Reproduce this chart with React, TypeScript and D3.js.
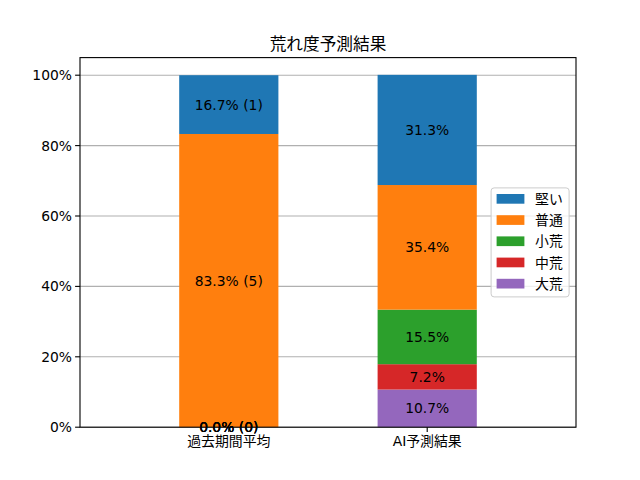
import * as d3 from "d3"

const categories = ["過去期間平均", "AI予測結果"]
// stacked bottom to top
const seriesNames = ["大荒", "中荒", "小荒", "普通", "堅い"]
const seriesColors = ["#9467bd", "#d62728", "#2ca02c", "#ff7f0e", "#1f77b4"]
const pastValues = [0, 0, 0, 83.3, 16.7]
const pastCounts = [0, 0, 0, 5, 1]
const aiValues = [10.7, 7.2, 15.5, 35.4, 31.3]
const yTicks = [0, 20, 40, 60, 80, 100]
const title = "荒れ度予測結果"

const font = "'DejaVu Sans', 'Noto Sans CJK JP', sans-serif"

export default function App() {
  const W = 640
  const H = 480
  const margin = { top: 57.6, right: 64, bottom: 52.8, left: 80 }
  const iw = W - margin.left - margin.right
  const ih = H - margin.top - margin.bottom

  const x = d3.scaleLinear().domain([-0.75, 1.75]).range([0, iw])
  const y = d3.scaleLinear().domain([0, 105]).range([ih, 0])
  const barW = x(0.5) - x(0)

  const rows = [
    { values: pastValues, counts: pastCounts },
    { values: aiValues, counts: null as number[] | null },
  ]

  const stacked = rows.map((r) => {
    let acc = 0
    return r.values.map((v, i) => {
      const y0 = acc
      acc += v
      return { y0, y1: acc, v, count: r.counts ? r.counts[i] : null, i }
    })
  })

  const legendItems = seriesNames.map((n, i) => ({ n, c: seriesColors[i] })).reverse()
  const lgW = 78
  const lgH = 109
  const lgX = iw - 6.9 - lgW
  const lgY = ih / 2 - lgH / 2

  return (
    <svg width={W} height={H} style={{ display: "block", margin: -8 }} fontFamily={font}>
      <rect width={W} height={H} fill="#fff" />
      <text x={margin.left + iw / 2} y={margin.top - 8} textAnchor="middle" fontSize={16.67} fill="#000">
        {title}
      </text>
      <g transform={`translate(${margin.left},${margin.top})`}>
        {yTicks.map((t) => (
          <line key={"g" + t} x1={0} x2={iw} y1={y(t)} y2={y(t)} stroke="#b0b0b0" strokeWidth={1.1} />
        ))}
        {stacked.map((segs, ci) =>
          segs.map((s) => (
            <rect
              key={ci + "-" + s.i}
              x={x(ci) - barW / 2}
              y={y(s.y1)}
              width={barW}
              height={y(s.y0) - y(s.y1)}
              fill={seriesColors[s.i]}
            />
          ))
        )}
        {stacked.map((segs, ci) =>
          segs.map((s) => (
            <text
              key={"l" + ci + "-" + s.i}
              x={x(ci)}
              y={y((s.y0 + s.y1) / 2)}
              textAnchor="middle"
              dominantBaseline="central"
              fontSize={13.89}
              fill="#000"
            >
              {s.v.toFixed(1) + "%" + (s.count !== null ? ` (${s.count})` : "")}
            </text>
          ))
        )}
        <rect x={0} y={0} width={iw} height={ih} fill="none" stroke="#000" strokeWidth={1.1} />
        {yTicks.map((t) => (
          <g key={"t" + t} transform={`translate(0,${y(t)})`}>
            <line x1={-4.9} x2={0} stroke="#000" strokeWidth={1.1} />
            <text x={-8} textAnchor="end" dominantBaseline="central" fontSize={13.89} fill="#000">
              {t + "%"}
            </text>
          </g>
        ))}
        {categories.map((c, i) => (
          <g key={c} transform={`translate(${x(i)},${ih})`}>
            <line y1={0} y2={4.9} stroke="#000" strokeWidth={1.1} />
            <text y={19} textAnchor="middle" fontSize={13.89} fill="#000">
              {c}
            </text>
          </g>
        ))}
        <g transform={`translate(${lgX},${lgY})`}>
          <rect width={lgW} height={lgH} rx={3} fill="#fff" fillOpacity={0.8} stroke="#ccc" strokeWidth={1} />
          {legendItems.map((it, i) => (
            <g key={it.n} transform={`translate(0,${11 + i * 21.2})`}>
              <rect x={5.5} y={-4.9} width={27.8} height={9.7} fill={it.c} />
              <text x={44} dominantBaseline="central" fontSize={13.89} fill="#000">
                {it.n}
              </text>
            </g>
          ))}
        </g>
      </g>
    </svg>
  )
}
